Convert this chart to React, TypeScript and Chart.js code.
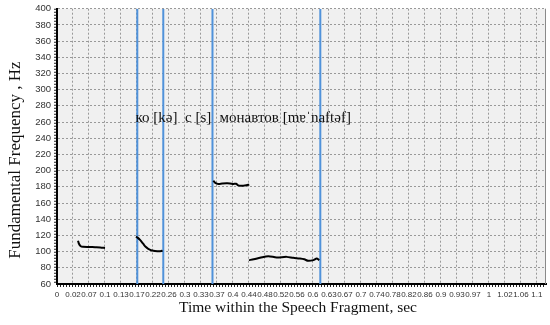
import React, { useEffect, useRef } from "react";
import { Chart, registerables } from "chart.js";

Chart.register(...registerables);

const X_TICK_LABELS = ["0", "0.02", "0.07", "0.1", "0.13", "0.17", "0.22", "0.26", "0.3", "0.33", "0.37", "0.4", "0.44", "0.48", "0.52", "0.56", "0.6", "0.63", "0.67", "0.7", "0.74", "0.78", "0.82", "0.86", "0.9", "0.93", "0.97", "1", "1.02", "1.06", "1.1"];
const X_TICK_STEP = 0.037;
const X_MAX = 1.131;
const Y_MIN = 60;
const Y_MAX = 400;
const Y_STEP = 20;

// F0 contour segments: time (s) and frequency (Hz)
const SEG1_T = [0.0486, 0.0505, 0.0543, 0.060, 0.075, 0.088, 0.100, 0.111];
const SEG1_F = [113.5, 110, 107, 106, 105.8, 105.5, 105.2, 104.5];
const SEG2_T = [0.1827, 0.187, 0.192, 0.1996, 0.205, 0.211, 0.2227, 0.232, 0.242, 0.244];
const SEG2_F = [118.5, 117, 114.5, 109.5, 106, 103.5, 101, 100.5, 100.8, 101.5];
const SEG3_T = [0.3615, 0.366, 0.373, 0.382, 0.392, 0.400, 0.408, 0.414, 0.419, 0.425, 0.431, 0.438, 0.4447];
const SEG3_F = [187.5, 185, 183.6, 184, 184.3, 184.2, 183.6, 183.8, 181.8, 181.3, 181.5, 182, 182.7];
const SEG4_T = [0.444, 0.455, 0.4695, 0.4887, 0.508, 0.531, 0.5465, 0.562, 0.572, 0.581, 0.593, 0.6006, 0.6066];
const SEG4_F = [89.5, 90.5, 92.3, 94.4, 92.7, 93.5, 92.3, 91.5, 90.5, 88.6, 89.5, 91.5, 89.5];

// segment boundary markers (s)
const BOUNDARIES = [0.1857, 0.2458, 0.3596, 0.609];

// phonetic annotations
const ANNOT_TEXT = ["ко [kə]", "с [s]", "монавтов [mɐˈnaftəf]"];
const ANNOT_T = [0.1815, 0.296, 0.376];
const ANNOT_F = 265;

const Y_TITLE = "Fundamental Frequency , Hz";
const X_TITLE = "Time within the Speech Fragment, sec";

const zip = (t: number[], f: number[]) => t.map((x, i) => ({ x, y: f[i] }));

export default function App() {
  const ref = useRef<HTMLCanvasElement>(null);
  useEffect(() => {
    if (!ref.current) return;
    const serif = '"Liberation Serif", "Times New Roman", serif';
    const sans = '"Liberation Sans", Arial, sans-serif';

    const framePlugin = {
      id: "frame",
      beforeDraw(chart: any) {
        const { ctx, chartArea: a } = chart;
        ctx.save();
        ctx.fillStyle = "#ffffff";
        ctx.fillRect(0, 0, chart.width, chart.height);
        ctx.fillStyle = "#f0f0f0";
        ctx.fillRect(a.left, a.top, a.right - a.left, a.bottom - a.top);
        ctx.restore();
      },
      afterDraw(chart: any) {
        const { ctx, chartArea: a, scales } = chart;
        ctx.save();
        // right border
        ctx.strokeStyle = "#8a8a8a";
        ctx.lineWidth = 1;
        ctx.beginPath();
        ctx.moveTo(a.right - 0.5, a.top);
        ctx.lineTo(a.right - 0.5, a.bottom);
        ctx.stroke();
        // minor tick strips
        ctx.strokeStyle = "#222";
        ctx.setLineDash([1, 2]);
        ctx.lineWidth = 2;
        ctx.beginPath();
        ctx.moveTo(a.left, a.bottom + 2);
        ctx.lineTo(a.right, a.bottom + 2);
        ctx.stroke();
        ctx.beginPath();
        ctx.moveTo(a.left - 2, a.top);
        ctx.lineTo(a.left - 2, a.bottom);
        ctx.stroke();
        ctx.setLineDash([]);
        // annotations
        ctx.fillStyle = "#111";
        ctx.font = "15px " + serif;
        ctx.textBaseline = "middle";
        ctx.textAlign = "left";
        ANNOT_TEXT.forEach((s, i) => {
          ctx.fillText(s, scales.x.getPixelForValue(ANNOT_T[i]), scales.y.getPixelForValue(ANNOT_F));
        });
        // axis titles
        ctx.font = "15.5px " + serif;
        ctx.textAlign = "center";
        ctx.fillText(X_TITLE, 298, 308);
        ctx.font = "17px " + serif;
        ctx.translate(16, 160);
        ctx.rotate(-Math.PI / 2);
        ctx.fillText(Y_TITLE, 0, 0);
        ctx.restore();
      },
    };

    const boundaryDatasets = BOUNDARIES.map((t) => ({
      data: [{ x: t, y: Y_MIN }, { x: t, y: Y_MAX }],
      borderColor: "#5092da",
      borderWidth: 2,
      pointRadius: 0,
      showLine: true,
      order: 2,
    }));
    const segDatasets = [zip(SEG1_T, SEG1_F), zip(SEG2_T, SEG2_F), zip(SEG3_T, SEG3_F), zip(SEG4_T, SEG4_F)].map((d) => ({
      data: d,
      borderColor: "#000",
      borderWidth: 2,
      pointRadius: 0,
      showLine: true,
      tension: 0.3,
      order: 1,
    }));

    const chart = new Chart(ref.current, {
      type: "scatter",
      data: { datasets: [...boundaryDatasets, ...segDatasets] as any },
      options: {
        animation: false,
        responsive: false,
        maintainAspectRatio: false,
        layout: { padding: { left: 0, top: 7, right: 4, bottom: 0 } },
        plugins: { legend: { display: false }, tooltip: { enabled: false } },
        scales: {
          x: {
            type: "linear",
            min: 0,
            max: X_MAX,
            afterBuildTicks: (scale: any) => {
              scale.ticks = X_TICK_LABELS.map((_, i) => ({ value: i * X_TICK_STEP }));
            },
            afterFit: (scale: any) => {
              scale.height = 41;
            },
            ticks: {
              autoSkip: false,
              maxRotation: 0,
              minRotation: 0,
              padding: 3,
              color: "#333",
              font: { size: 8, family: sans },
              callback: (_v: any, i: number) => X_TICK_LABELS[i],
            },
            grid: { color: "#999999", lineWidth: 1, tickLength: 3, tickColor: "transparent", drawOnChartArea: true },
            border: { display: true, color: "#000", width: 2, dash: [2, 2] },
          },
          y: {
            type: "linear",
            min: Y_MIN,
            max: Y_MAX,
            afterFit: (scale: any) => {
              scale.width = 57;
            },
            ticks: {
              stepSize: Y_STEP,
              padding: 3,
              color: "#333",
              font: { size: 9.5, family: sans },
            },
            grid: { color: "#999999", lineWidth: 1, tickLength: 3, tickColor: "transparent" },
            border: { display: true, color: "#000", width: 2, dash: [2, 2] },
          },
        },
      } as any,
      plugins: [framePlugin],
    });
    return () => chart.destroy();
  }, []);
  return (
    <div style={{ position: "fixed", left: 0, top: 0, width: 550, height: 325 }}>
      <canvas ref={ref} width={550} height={325} style={{ width: 550, height: 325, display: "block" }} />
    </div>
  );
}
